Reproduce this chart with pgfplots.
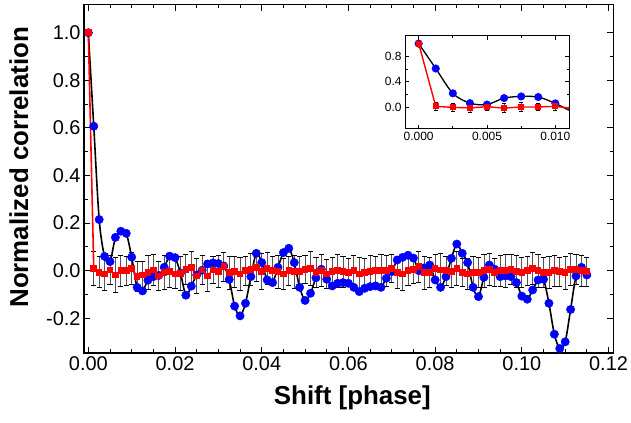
\documentclass[border=0pt]{standalone}
\usepackage{fontspec}
\setmainfont{Liberation Sans}
\usepackage{pgfplots}
\usepackage{pgfplotstable}
\pgfplotsset{compat=1.18}
\pgfplotstableread{
x b r e
0.00000 1.000 1.000 0
0.00125 0.607 0.010 0.070
0.00250 0.215 -0.007 0.065
0.00375 0.060 -0.014 0.070
0.00500 0.038 0.003 0.060
0.00625 0.140 -0.018 0.072
0.00750 0.166 0.000 0.065
0.00875 0.157 0.000 0.060
0.01000 0.057 0.010 0.068
0.01125 -0.070 -0.025 0.062
0.01250 -0.085 -0.018 0.058
0.01375 -0.040 -0.007 0.070
0.01500 -0.025 0.003 0.065
0.01625 -0.020 -0.022 0.060
0.01750 0.014 -0.007 0.072
0.01875 0.061 -0.004 0.066
0.02000 0.055 -0.014 0.060
0.02125 -0.010 -0.011 0.070
0.02250 -0.103 0.006 0.064
0.02375 -0.065 0.014 0.068
0.02500 -0.018 -0.022 0.072
0.02625 0.002 0.003 0.060
0.02750 0.028 -0.022 0.066
0.02875 0.033 0.003 0.058
0.03000 0.030 -0.004 0.068
0.03125 0.020 0.017 0.060
0.03250 -0.037 -0.008 0.070
0.03375 -0.149 -0.004 0.065
0.03500 -0.190 -0.014 0.070
0.03625 -0.137 0.000 0.062
0.03750 -0.025 0.006 0.068
0.03875 0.073 0.014 0.058
0.04000 0.034 -0.004 0.075
0.04125 -0.039 0.010 0.066
0.04250 -0.050 0.000 0.060
0.04375 0.014 -0.004 0.070
0.04500 0.076 -0.014 0.066
0.04625 0.094 0.000 0.062
0.04750 0.034 -0.004 0.070
0.04875 -0.070 -0.004 0.064
0.05000 -0.125 0.006 0.060
0.05125 -0.095 0.010 0.070
0.05250 -0.030 -0.008 0.064
0.05375 0.006 0.000 0.068
0.05500 -0.036 -0.014 0.062
0.05625 -0.064 -0.004 0.060
0.05750 -0.053 0.000 0.070
0.05875 -0.050 -0.004 0.066
0.06000 -0.053 -0.008 0.060
0.06125 -0.070 0.000 0.064
0.06250 -0.088 -0.014 0.070
0.06375 -0.074 -0.008 0.058
0.06500 -0.067 -0.004 0.068
0.06625 -0.064 0.000 0.062
0.06750 -0.070 0.000 0.070
0.06875 -0.032 0.000 0.064
0.07000 -0.004 0.010 0.060
0.07125 0.045 -0.008 0.068
0.07250 0.056 -0.014 0.070
0.07375 0.065 0.000 0.062
0.07500 0.053 0.006 0.058
0.07625 0.000 0.017 0.066
0.07750 0.012 -0.008 0.070
0.07875 0.024 -0.008 0.064
0.08000 -0.039 0.010 0.060
0.08125 -0.070 0.003 0.068
0.08250 -0.025 0.000 0.062
0.08375 0.052 -0.004 0.066
0.08500 0.112 0.010 0.070
0.08625 0.073 -0.008 0.060
0.08750 0.034 -0.014 0.064
0.08875 -0.070 -0.008 0.068
0.09000 -0.109 -0.008 0.062
0.09125 -0.028 0.000 0.070
0.09250 0.024 0.006 0.066
0.09375 0.006 -0.008 0.060
0.09500 -0.025 0.000 0.064
0.09625 -0.022 0.000 0.070
0.09750 -0.025 0.006 0.062
0.09875 -0.050 -0.004 0.068
0.10000 -0.107 -0.008 0.064
0.10125 -0.120 0.000 0.060
0.10250 -0.081 0.010 0.066
0.10375 -0.039 0.000 0.070
0.10500 -0.036 -0.008 0.062
0.10625 -0.137 -0.008 0.068
0.10750 -0.267 0.000 0.064
0.10875 -0.327 -0.004 0.060
0.11000 -0.299 -0.008 0.070
0.11125 -0.163 0.006 0.066
0.11250 -0.022 0.006 0.062
0.11375 0.014 0.000 0.064
0.11500 -0.018 -0.004 0.060
}\data
\definecolor{ebar}{RGB}{85,85,85}
\begin{document}
\begin{tikzpicture}
\useasboundingbox (0,0) rectangle (631bp,423bp);
\begin{axis}[
  at={(84bp,70bp)}, anchor=south west, scale only axis,
  width=529.3bp, height=348.3bp,
  xmin=-0.001, xmax=0.1211, ymin=-0.346, ymax=1.118,
  scaled ticks=false,
  xtick={0,0.02,0.04,0.06,0.08,0.1,0.12},
  xticklabels={0.00,0.02,0.04,0.06,0.08,0.10,0.12},
  ytick={-0.2,0,0.2,0.4,0.6,0.8,1.0},
  yticklabels={-0.2,0.0,0.2,0.4,0.6,0.8,1.0},
  minor x tick num=3, minor y tick num=1,
  tick align=inside, major tick length=6bp, minor tick length=3.5bp,
  axis line style={line width=1.6bp},
  every tick/.style={black, line width=1bp},
  tick label style={font=\fontsize{20}{24}\selectfont},
  label style={font=\fontsize{26}{30}\selectfont\bfseries},
  xlabel={Shift [phase]}, ylabel={Normalized correlation},
  xlabel style={at={(rel axis cs:0.507,-0.129)}, anchor=center},
  ylabel style={at={(rel axis cs:-0.123,0.533)}, anchor=center},
  clip=true,
]
\addplot[forget plot, draw=none, mark=none,
  error bars/.cd, y dir=both, y explicit,
  error bar style={draw=ebar, line width=0.8bp},
  error mark options={rotate=90, mark size=2.6bp, line width=0.8bp, draw=black}]
  table[x=x, y=r, y error=e] {\data};
\addplot[only marks, mark=*, mark size=4.2bp, mark options={fill=blue, draw=blue}] table[x=x, y=b] {\data};
\addplot[black, line width=1.6bp, smooth, mark=none] table[x=x, y=b] {\data};
\addplot[red, line width=1.6bp, mark=square*, mark size=2.5bp, mark options={fill=red, draw=red}] table[x=x, y=r] {\data};
\addplot[only marks, mark=*, mark size=2.8bp, mark options={fill=red, draw=red}] coordinates {(0,1)};
\end{axis}
\begin{axis}[
  at={(405bp,294.3bp)}, anchor=south west, scale only axis,
  width=164bp, height=92.7bp,
  xmin=-0.001, xmax=0.011, ymin=-0.343, ymax=1.12,
  scaled ticks=false,
  axis background/.style={fill=white},
  xtick={0,0.005,0.01}, xticklabels={0.000,0.005,0.010},
  ytick={0,0.4,0.8}, yticklabels={0.0,0.4,0.8},
  minor x tick num=1, minor y tick num=1,
  tick align=inside, major tick length=4bp, minor tick length=2.5bp,
  axis line style={line width=1bp},
  every tick/.style={black, line width=0.7bp},
  tick label style={font=\fontsize{12}{14}\selectfont},
  clip=true,
]
\addplot[forget plot, draw=none, mark=none, restrict x to domain=-0.001:0.0105,
  error bars/.cd, y dir=both, y explicit,
  error bar style={draw=ebar, line width=0.7bp},
  error mark options={rotate=90, mark size=2bp, line width=0.7bp, draw=black}]
  table[x=x, y=r, y error=e] {\data};
\addplot[only marks, mark=*, mark size=3.8bp, mark options={fill=blue, draw=blue}, restrict x to domain=-0.001:0.0105] table[x=x, y=b] {\data};
\addplot[black, line width=1.3bp, smooth, mark=none, restrict x to domain=-0.001:0.015] table[x=x, y=b] {\data};
\addplot[red, line width=1.4bp, mark=square*, mark size=2.3bp, mark options={fill=red, draw=red}, restrict x to domain=-0.001:0.015] table[x=x, y=r] {\data};
\addplot[only marks, mark=*, mark size=2.8bp, mark options={fill=red, draw=red}] coordinates {(0,1)};
\end{axis}
\end{tikzpicture}
\end{document}
